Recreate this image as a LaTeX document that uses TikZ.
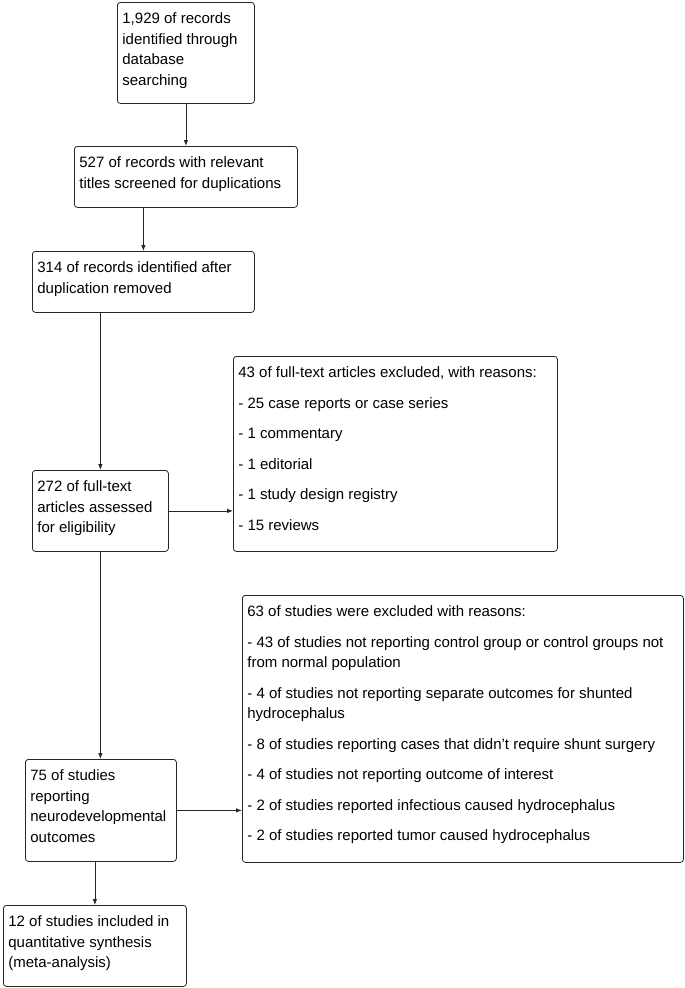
\documentclass[tikz,border=0pt]{standalone}
\usepackage{fontspec}
\setmainfont{Liberation Sans}
\usepackage{tikz}
\usetikzlibrary{arrows.meta}
\newcommand{\boxtext}[3]{\parbox[c][#2][t]{#1}{\fontsize{15}{20.5}\selectfont\raggedright\rule{0pt}{21.5pt}#3}}

\begin{document}
\begin{tikzpicture}[
                x = 1pt, y = -1pt,
                box/.style = {draw=black!85, line width=0.8pt, rounded corners=3pt,
                              anchor=north west, inner xsep=5pt, inner ysep=0pt},
                link/.style = {-{Latex[length=6pt,width=4.5pt]}, line width=0.8pt, draw=black!85}
                    ]
                \useasboundingbox (0,0) rectangle (685,988);
                \begin{scope}[nodes=box]
                \node (1) at (117,2) {\boxtext{127pt}{101pt}{1,929 of records\\ identified through\\ database\\ searching}};
                \node (2) at (74,146) {\boxtext{213pt}{61pt}{527 of records with relevant\\ titles screened for duplications}};
                \node (3) at (32,251) {\boxtext{212pt}{61pt}{314 of records identified after\\ duplication removed}};
                \node (4) at (32,470) {\boxtext{126pt}{81pt}{272 of full-text\\ articles assessed\\ for eligibility}};
                \node (5) at (233,356) {\boxtext{314pt}{195pt}{43 of full-text articles excluded, with reasons:\\[10pt]
                    - 25 case reports or case series\\[10pt]
                    - 1 commentary\\[10pt]
                    - 1 editorial\\[10pt]
                    - 1 study design registry\\[10pt]
                    - 15 reviews}};
                \node (6) at (242,595) {\boxtext{431pt}{267pt}{63 of studies were excluded with reasons:\\[10pt]
                    - 43 of studies not reporting control group or control groups not\\ from normal population\\[10pt]
                    - 4 of studies not reporting separate outcomes for shunted\\ hydrocephalus\\[10pt]
                    - 8 of studies reporting cases that didn't require shunt surgery\\[10pt]
                    - 4 of studies not reporting outcome of interest\\[10pt]
                    - 2 of studies reported infectious caused hydrocephalus\\[10pt]
                    - 2 of studies reported tumor caused hydrocephalus}};
                \node (7) at (25,759) {\boxtext{141pt}{102pt}{75 of studies\\ reporting\\ neurodevelopmental\\ outcomes}};
                \node (8) at (3,905) {\boxtext{173pt}{81pt}{12 of studies included in\\ quantitative synthesis\\ (meta-analysis)}};
                \end{scope}
                \draw[link] (1.south) -- (1.south |- 2.north);
                \draw[link] (2.south -| 3.north) -- (3.north);
                \draw[link] (3.south -| 4.north) -- (4.north);
                \draw[link] (4.east) -- (4.east -| 5.west);
                \draw[link] (4.south) -- (4.south |- 7.north);
                \draw[link] (7.east) -- (7.east -| 6.west);
                \draw[link] (7.south -| 8.north) -- (8.north);
            \end{tikzpicture}
\end{document}
